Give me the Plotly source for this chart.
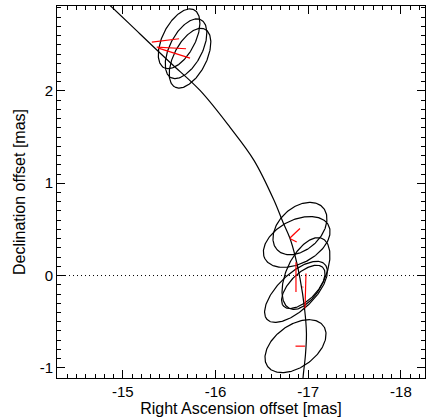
import numpy as np
import plotly.graph_objects as go

# Orbit track (RA offset, Dec offset) in mas
orbit_ra = [-14.779, -14.863, -15.186, -15.510, -15.833, -16.157, -16.415, -16.631,
            -16.728, -16.803, -16.857, -16.911, -16.960, -16.981, -16.970, -16.949, -16.941]
orbit_dec = [3.000, 2.925, 2.617, 2.308, 2.005, 1.605, 1.248, 0.815,
             0.577, 0.404, 0.220, -0.029, -0.354, -0.625, -0.863, -1.057, -1.144]

# Measured positions with error ellipses
obs_ra = [-15.607, -15.682, -15.725, -16.911, -16.876, -16.976, -16.868, -16.947, -16.863]
obs_dec = [2.565, 2.457, 2.355, 0.509, 0.364, 0.022, -0.177, -0.123, -0.765]
err_major = [0.353, 0.353, 0.353, 0.337, 0.388, 0.418, 0.432, 0.298, 0.373]
err_minor = [0.175, 0.175, 0.175, 0.228, 0.234, 0.208, 0.194, 0.145, 0.227]
err_pa = [152.7, 152.7, 152.7, 133.0, 118.0, 154.9, 134.0, 135.0, 126.2]

# Model (orbit) positions at the observation epochs
model_ra = [-15.313, -15.366, -15.384, -16.803, -16.806, -16.966, -16.868, -16.938, -16.965]
model_dec = [2.528, 2.474, 2.463, 0.407, 0.399, -0.354, 0.144, -0.127, -0.765]

x_ticks = [-15, -16, -17, -18]
y_ticks = [-1, 0, 1, 2]
x_range = [-14.29, -18.26]
y_range = [-1.11, 2.92]

fig = go.Figure()

# dotted zero line
fig.add_hline(y=0, line=dict(color="black", width=1, dash="1px,3px"))

# orbit
fig.add_trace(go.Scatter(x=orbit_ra, y=orbit_dec, mode="lines",
                         line=dict(color="black", width=1.2, shape="spline", smoothing=1.0),
                         hoverinfo="skip", showlegend=False))

# error ellipses
t = np.linspace(0, 2 * np.pi, 200)
for ra, dec, a, b, pa in zip(obs_ra, obs_dec, err_major, err_minor, err_pa):
    p = np.deg2rad(pa)
    u = np.array([np.sin(p), np.cos(p)])
    v = np.array([np.cos(p), -np.sin(p)])
    ex = ra + a * np.cos(t) * u[0] + b * np.sin(t) * v[0]
    ey = dec + a * np.cos(t) * u[1] + b * np.sin(t) * v[1]
    fig.add_trace(go.Scatter(x=ex, y=ey, mode="lines",
                             line=dict(color="black", width=1.2),
                             hoverinfo="skip", showlegend=False))

# residual lines
for ra, dec, mra, mdec in zip(obs_ra, obs_dec, model_ra, model_dec):
    fig.add_trace(go.Scatter(x=[ra, mra], y=[dec, mdec], mode="lines",
                             line=dict(color="red", width=1.2),
                             hoverinfo="skip", showlegend=False))

font = dict(family="Liberation Sans, Arial, sans-serif", size=15, color="black")
title_font = dict(family="Liberation Sans, Arial, sans-serif", size=16, color="black")

fig.update_layout(
    width=428, height=419,
    margin=dict(l=57, r=3, t=6, b=41, autoexpand=False),
    paper_bgcolor="white", plot_bgcolor="white",
    font=font,
    showlegend=False,
)
fig.update_xaxes(
    range=x_range, autorange=False, automargin=False,
    tickmode="array", tickvals=x_ticks, ticktext=[str(v) for v in x_ticks],
    ticks="inside", ticklen=8, tickwidth=1, tickcolor="black",
    minor=dict(dtick=0.1, tick0=0, ticks="inside", ticklen=4, tickwidth=1, tickcolor="black"),
    showline=True, linecolor="black", linewidth=1, mirror="allticks",
    showgrid=False, zeroline=False,
    title=dict(text="Right Ascension offset [mas]", font=title_font, standoff=2),
    tickfont=font,
)
fig.update_yaxes(
    range=y_range, autorange=False, automargin=False,
    tickmode="array", tickvals=y_ticks, ticktext=[str(v) for v in y_ticks],
    ticks="inside", ticklen=8, tickwidth=1, tickcolor="black",
    minor=dict(dtick=0.1, tick0=0, ticks="inside", ticklen=4, tickwidth=1, tickcolor="black"),
    showline=True, linecolor="black", linewidth=1, mirror="allticks",
    showgrid=False, zeroline=False,
    title=dict(text="Declination offset [mas]", font=title_font, standoff=10),
    tickfont=font,
)

fig.write_html(
    "out.html",
    config={"displayModeBar": False},
    post_script="document.documentElement.style.margin='0';document.body.style.margin='0';"
                "document.body.style.overflow='hidden';",
)
